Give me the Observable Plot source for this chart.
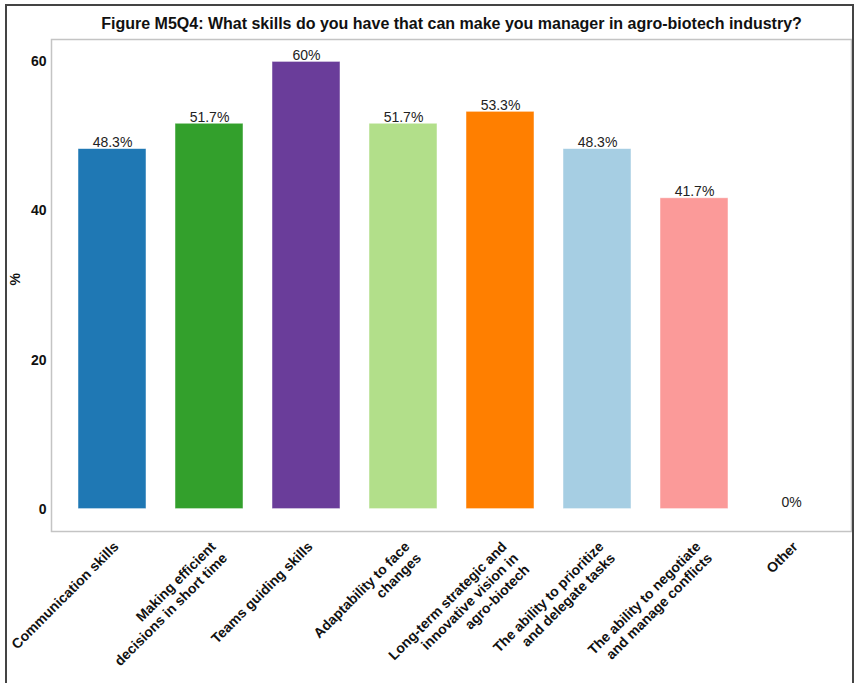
<!DOCTYPE html>
<html>
<head>
<meta charset="utf-8">
<script src="https://cdn.jsdelivr.net/npm/d3@7"></script>
<script src="https://cdn.jsdelivr.net/npm/@observablehq/plot@0.6"></script>
<style>
  html, body { margin: 0; padding: 0; background: #fff; }
  #wrap { position: relative; width: 857px; height: 683px; overflow: hidden; }
  #border { position: absolute; left: 5px; top: 4px; width: 849px; height: 700px; border: 2px solid #444; box-sizing: border-box; }
  #chart { position: absolute; left: 0; top: 0; }
</style>
</head>
<body>
<div id="wrap">
  <div id="chart"></div>
  <div id="border"></div>
</div>
<script>
const title = "Figure M5Q4: What skills do you have that can make you manager in agro-biotech industry?";
const categories = [
  "Communication skills",
  "Making efficient\ndecisions in short time",
  "Teams guiding skills",
  "Adaptability to face\nchanges",
  "Long-term strategic and\ninnovative vision in\nagro-biotech",
  "The ability to prioritize\nand delegate tasks",
  "The ability to negotiate\nand manage conflicts",
  "Other"
];
const values = [48.3, 51.7, 60, 51.7, 53.3, 48.3, 41.7, 0];
const valueLabels = ["48.3%", "51.7%", "60%", "51.7%", "53.3%", "48.3%", "41.7%", "0%"];
const colors = ["#1f78b4", "#33a02c", "#6a3d9a", "#b2df8a", "#ff7f00", "#a6cee3", "#fb9a99", "#fdbf6f"];
const yTicks = [0, 20, 40, 60];
const yLabel = "%";

const data = categories.map((c, i) => ({category: c, value: values[i], label: valueLabels[i]}));
const font = "'Liberation Sans', Arial, Helvetica, sans-serif";

const chart = Plot.plot({
  width: 857,
  height: 683,
  marginLeft: 51,
  marginRight: 6,
  marginTop: 39,
  marginBottom: 152,
  style: {fontFamily: font, background: "transparent", overflow: "visible"},
  x: {domain: categories, paddingInner: 0.3, paddingOuter: 0.25, axis: null},
  y: {domain: [-3, 63], axis: null},
  color: {domain: categories, range: colors},
  marks: [
    Plot.frame({stroke: "#c4c4c4", strokeWidth: 1.5}),
    Plot.barY(data, {x: "category", y1: 0, y2: "value", fill: "category", stroke: "white", strokeOpacity: 0.6, strokeWidth: 0.8}),
    Plot.text(data, {x: "category", y: "value", text: "label", lineAnchor: "bottom", dy: -2, fontSize: 14, fill: "#222"}),
    Plot.axisY({ticks: yTicks, tickSize: 0, tickPadding: 5, fontSize: 14, fontWeight: "bold", fill: "#111", label: null}),
    Plot.text(data, {x: "category", text: "category", frameAnchor: "bottom", rotate: -45, textAnchor: "end", lineAnchor: "top", lineHeight: 1.15, dx: -1, dy: 8, fontSize: 14, fontWeight: "bold", fill: "#111"}),
    Plot.text([yLabel], {frameAnchor: "left", rotate: -90, dx: -36, fontSize: 14, fontWeight: "bold", fill: "#111"}),
    Plot.text([title], {frameAnchor: "top", dy: -22, fontSize: 16, fontWeight: "bold", fill: "#111"})
  ]
});
document.getElementById("chart").appendChild(chart);
</script>
</body>
</html>
